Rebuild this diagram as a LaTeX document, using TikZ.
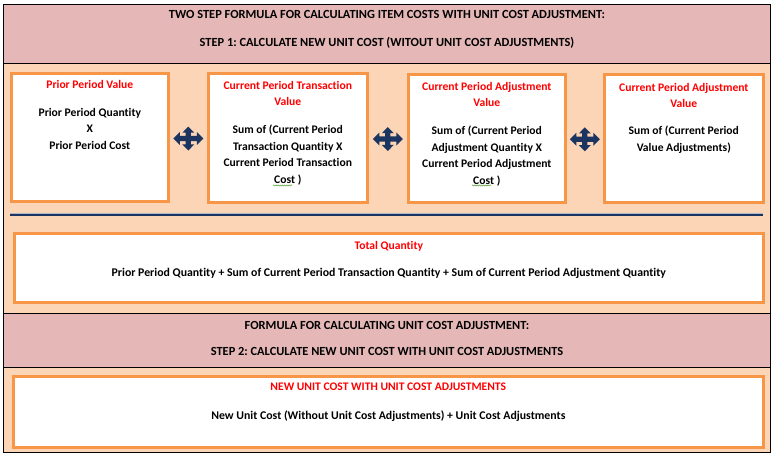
\documentclass[tikz,border=0pt]{standalone}
\usepackage{fontspec}
\setmainfont{Carlito}[Ligatures={NoCommon}]
\usetikzlibrary{calc,decorations.pathmorphing}
\definecolor{hdrpink}{RGB}{229,184,183}
\definecolor{peach}{RGB}{251,213,181}
\definecolor{orng}{RGB}{247,150,70}
\definecolor{navy}{RGB}{28,52,96}
\definecolor{squig}{RGB}{90,160,60}
\frenchspacing
\newcommand\fourarrow[1]{%
  \fill[navy, shift={(#1)}]
    (15,0) -- (8.5,6.5) -- (8.5,2.6) -- (2.6,2.6) -- (2.6,5.8) -- (6,5.8) -- (0,12)
    -- (-6,5.8) -- (-2.6,5.8) -- (-2.6,2.6) -- (-8.5,2.6) -- (-8.5,6.5) -- (-15,0)
    -- (-8.5,-6.5) -- (-8.5,-2.6) -- (-2.6,-2.6) -- (-2.6,-5.8) -- (-6,-5.8) -- (0,-12)
    -- (6,-5.8) -- (2.6,-5.8) -- (2.6,-2.6) -- (8.5,-2.6) -- (8.5,-6.5) -- cycle;}
\begin{document}
\begin{tikzpicture}[x=1pt,y=-1pt,
  frame/.style={draw=black, line width=1.3pt, inner sep=0pt, anchor=north west},
  hdr/.style={frame, fill=hdrpink},
  band/.style={frame, fill=peach},
  box/.style={draw=orng, line width=2.6pt, fill=white, inner sep=0pt, anchor=north west},
  txt/.style={font=\fontsize{11.6}{16.5}\selectfont\bfseries\frenchspacing, align=center, inner sep=0pt, anchor=north, text=black},
  htxt/.style={txt, font=\fontsize{12.4}{16.5}\selectfont\bfseries\frenchspacing},
  wtxt/.style={txt, font=\fontsize{11.8}{16.5}\selectfont\bfseries\frenchspacing},
  ttl/.style={txt, text=red},
  sq/.style={squig, line width=0.5pt, decorate, decoration={snake, amplitude=0.6pt, segment length=2.2pt}}]
\useasboundingbox (0,0) rectangle (773,457);
% bands
\node[hdr, minimum width=767pt, minimum height=59pt] (h1) at (3,4) {};
\node[band, minimum width=767pt, minimum height=250pt] (p1) at (3,63) {};
\node[hdr, minimum width=767pt, minimum height=54pt] (h2) at (3,313) {};
\node[band, minimum width=767pt, minimum height=85pt] (p2) at (3,367) {};
% header texts
\node[htxt] (h1a) at (387,10) {TWO STEP FORMULA FOR CALCULATING ITEM COSTS WITH UNIT COST ADJUSTMENT:};
\node[htxt] (h1b) at (387,37) {STEP 1: CALCULATE NEW UNIT COST (WITOUT UNIT COST ADJUSTMENTS)};
\node[htxt] (h2a) at (387,321) {FORMULA FOR CALCULATING UNIT COST ADJUSTMENT:};
\node[htxt] (h2b) at (387,347) {STEP 2: CALCULATE NEW UNIT COST WITH UNIT COST ADJUSTMENTS};
% boxes
\node[box, minimum width=157pt, minimum height=128pt] (b1) at (10,72) {};
\node[box, minimum width=159pt, minimum height=129pt] (b2) at (207,72) {};
\node[box, minimum width=157pt, minimum height=128pt] (b3) at (407,73) {};
\node[box, minimum width=159pt, minimum height=128pt] (b4) at (603,73) {};
\node[box, minimum width=749pt, minimum height=69pt] (tq) at (13,232) {};
\node[box, minimum width=750pt, minimum height=71pt] (nu) at (12,375) {};
% box texts
\node[ttl] (b1t) at ([yshift=-8pt]b1.north) {Prior Period Value};
\node[txt] (b1b) at ([yshift=-36pt]b1.north) {Prior Period Quantity\\X\\Prior Period Cost};
\node[ttl] (b2t) at ([yshift=-9pt]b2.north) {Current Period Transaction\\Value};
\node[txt] (b2b) at ([yshift=-53pt]b2.north) {Sum of (Current Period\\Transaction Quantity X\\Current Period Transaction\\Cost )};
\node[ttl] (b3t) at ([yshift=-9pt]b3.north) {Current Period Adjustment\\Value};
\node[txt] (b3b) at ([yshift=-53pt]b3.north) {Sum of (Current Period\\Adjustment Quantity X\\Current Period Adjustment\\Cost )};
\node[ttl] (b4t) at ([yshift=-10pt]b4.north) {Current Period Adjustment\\Value};
\node[txt] (b4b) at ([yshift=-53pt]b4.north) {Sum of (Current Period\\Value Adjustments)};
\node[ttl] (tqt) at ([yshift=-9pt]tq.north) {Total Quantity};
\node[wtxt] (tqb) at ([yshift=-36pt]tq.north) {Prior Period Quantity + Sum of Current Period Transaction Quantity + Sum of Current Period Adjustment Quantity};
\node[ttl] (nut) at ([yshift=-8pt]nu.north) {NEW UNIT COST WITH UNIT COST ADJUSTMENTS};
\node[wtxt] (nub) at ([yshift=-36pt]nu.north) {New Unit Cost (Without Unit Cost Adjustments) + Unit Cost Adjustments};
% spell-check squiggles
\coordinate (s1a) at (273,185.5); \coordinate (s1b) at (292,185.5);
\coordinate (s2a) at (472,185.5); \coordinate (s2b) at (491,185.5);
\draw[sq] (s1a) -- (s1b);
\draw[sq] (s2a) -- (s2b);
% four-way arrows
\coordinate (m1) at ($(b1.east)!0.5!(b2.west)+(0,1)$);
\coordinate (m2) at ($(b2.east)!0.5!(b3.west)+(0,1)$);
\coordinate (m3) at ($(b3.east)!0.5!(b4.west)+(0,1)$);
\fourarrow{m1}
\fourarrow{m2}
\fourarrow{m3}
% divider line
\coordinate (l1) at (10,215);
\coordinate (l2) at (763,215);
\draw[navy!35, line width=1pt] ([yshift=2pt]l1) -- ([yshift=2pt]l2);
\draw[navy, line width=2.6pt] (l1) -- (l2);
\end{tikzpicture}
\end{document}
